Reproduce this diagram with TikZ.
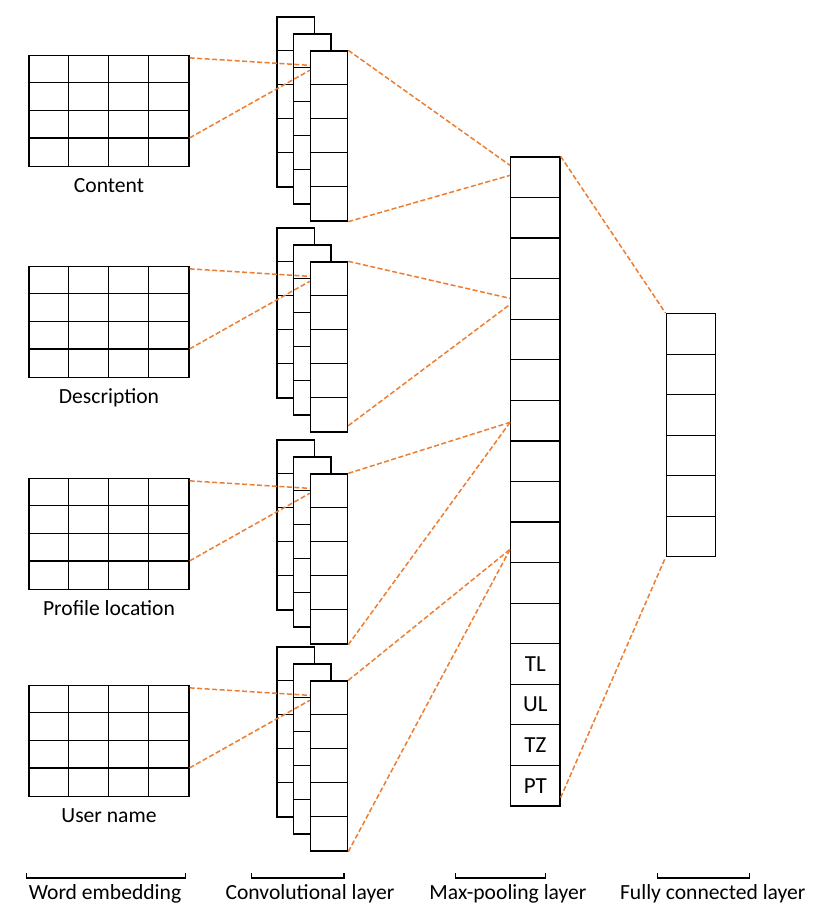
\documentclass[tikz,border=0pt]{standalone}
\usepackage{fontspec}
\setmainfont{Carlito}
\definecolor{linkorange}{HTML}{ED7D31}
\usetikzlibrary{calc}

\begin{document}
\begin{tikzpicture}[
    x=1pt, y=-1pt,
    embgrid/.style={rectangle,draw,line width=1.3pt,minimum width=160pt,minimum height=110.7pt,inner sep=0pt},
    fmap/.style={rectangle,draw,fill=white,line width=1.3pt,minimum width=37.3pt,minimum height=170pt,inner sep=0pt},
    poolcell/.style={rectangle,draw,line width=1.3pt,minimum width=49.3pt,minimum height=40.56pt,
      inner sep=0pt,font=\fontsize{23}{27}\selectfont},
    lbl/.style={font=\fontsize{21.6}{26}\selectfont,anchor=base},
    thin/.style={line width=1.3pt},
    link/.style={-,line width=1.5pt,linkorange,dash pattern=on 5pt off 2.5pt},
    brace/.style={-,line width=1.3pt}
  ]
    \useasboundingbox (0,0) rectangle (818,924);
    % Word embeddings and convolution stacks
    \foreach \k/\f/\txt in {1/51/Content, 2/262/Description, 3/474/Profile location, 4/681/User name} {
      \node[embgrid] (e\k) at (109, \f+59.85) {};
      \foreach \r in {1,2,3}
        \draw[thin] ($(e\k.north west)+(0,27.675*\r)$) -- ($(e\k.north east)+(0,27.675*\r)$);
      \foreach \c in {1,2,3}
        \draw[thin] ($(e\k.north west)+(40*\c,0)$) -- ($(e\k.south west)+(40*\c,0)$);
      \node[lbl] (t\k) at ($(e\k.south)+(0,26)$) {\txt};
      % three feature maps, back to front
      \node[fmap] (cb\k) at (295.6, \f+51) {};
      \foreach \r in {1,...,4}
        \draw[thin] ($(cb\k.north west)+(0,34*\r)$) -- ($(cb\k.north east)+(0,34*\r)$);
      \node[fmap] (cm\k) at (312.3, \f+68) {};
      \foreach \r in {1,...,4}
        \draw[thin] ($(cm\k.north west)+(0,34*\r)$) -- ($(cm\k.north east)+(0,34*\r)$);
      \node[fmap] (cf\k) at (329, \f+85) {};
      \foreach \r in {1,...,4}
        \draw[thin] ($(cf\k.north west)+(0,34*\r)$) -- ($(cf\k.north east)+(0,34*\r)$);
      \draw[link] ($(e\k.north east)+(0,3)$) -- ($(cf\k.north west)+(0,15)$);
      \draw[link] ($(e\k.north east)+(0,83)$) -- ($(cf\k.north west)+(0,20)$);
    }
    % Max-pooling column
    \foreach \i in {1,...,12}
      \node[poolcell] (p\i) at (535.35, 136.72+40.56*\i) {};
    \foreach \i/\t in {13/TL, 14/UL, 15/TZ, 16/PT}
      \node[poolcell] (p\i) at (535.35, 136.72+40.56*\i) {\t};
    % Fully connected column
    \foreach \i in {1,...,6}
      \node[poolcell] (f\i) at (690.8, 293.45+40.5*\i) {};
    % Links to pooling and dense layer
    \foreach \k/\a/\b/\s in {1/9/19/0, 2/142/148/-7, 3/266/266/0, 4/393/393/0} {
      \draw[link] (cf\k.north east) -- ($(p1.north west)+(0,\a)$);
      \draw[link] ($(cf\k.south east)+(0,\s)$) -- ($(p1.north west)+(0,\b)$);
    }
    \draw[link] (p1.north east) -- (f1.north west);
    \draw[link] ($(p16.south east)+(0,-9)$) -- (f6.south west);
    % Layer captions
    \foreach \n/\xa/\xb/\xt/\txt in {b1/26.7/185.7/105/Word embedding, b2/251.7/344/310/Convolutional layer,
        b3/455.7/545.7/508/Max-pooling layer, b4/657.3/749.7/712.8/Fully connected layer} {
      \draw[brace] (\xa,873) -- (\xa,878) -- (\xb,878) -- (\xb,873);
      \node[lbl] (\n) at (\xt,899) {\txt};
    }
  \end{tikzpicture}
\end{document}
